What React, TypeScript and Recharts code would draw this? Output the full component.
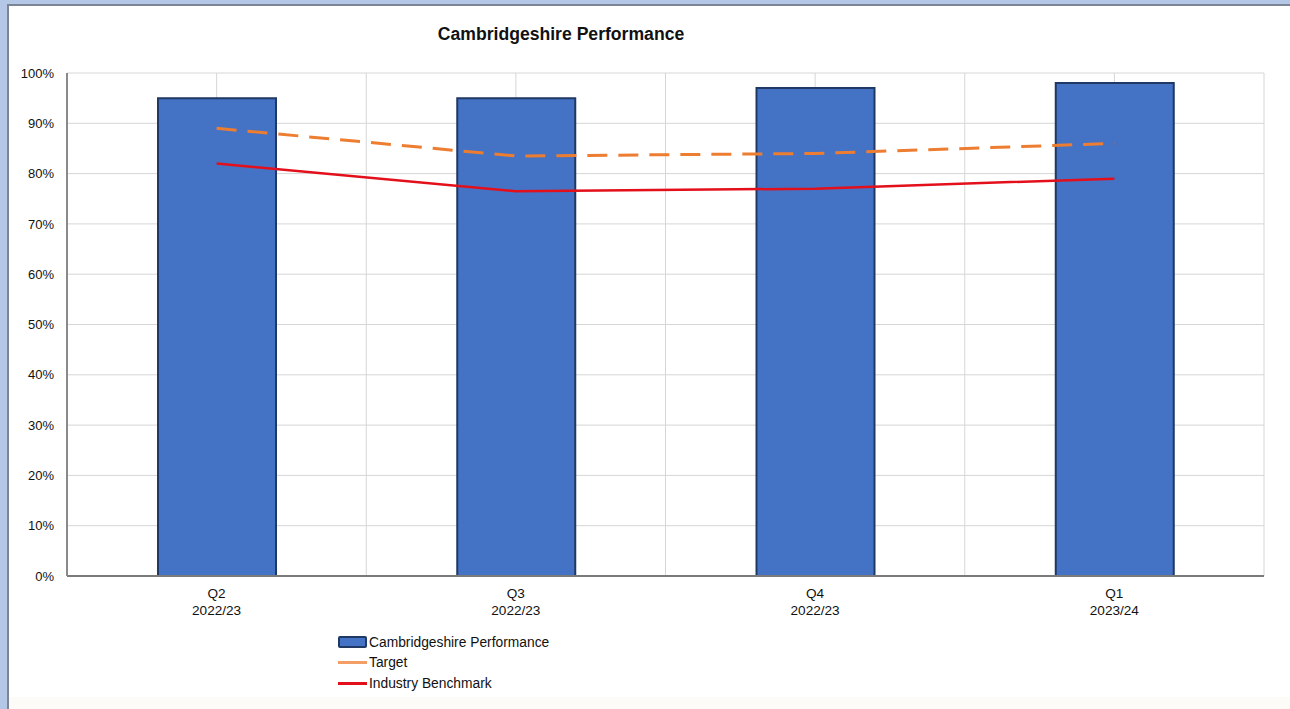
import React from "react";
import {
  ComposedChart,
  Bar,
  Line,
  XAxis,
  YAxis,
  CartesianGrid,
  Legend,
} from "recharts";

// Quarterly performance against target and benchmark (%)
const quarters = ["Q2", "Q3", "Q4", "Q1"];
const years = ["2022/23", "2022/23", "2022/23", "2023/24"];
const performance = [95, 95, 97, 98];
const target = [89, 83.5, 84, 86];
const benchmark = [82, 76.5, 77, 79];
const yTicks = [0, 10, 20, 30, 40, 50, 60, 70, 80, 90, 100];
const seriesNames = ["Cambridgeshire Performance", "Target", "Industry Benchmark"];

const FONT = "'Liberation Sans', Arial, sans-serif";
const BAR_FILL = "#4472c4";
const BAR_EDGE = "#203864";
const TARGET_COLOR = "#ed7d31";
const BENCH_COLOR = "#e3101b";

const data = quarters.map((q, i) => ({
  quarter: q,
  year: years[i],
  performance: performance[i],
  target: target[i],
  benchmark: benchmark[i],
}));

function QuarterTick(props: any) {
  const { x, y, index } = props;
  return (
    <text x={x} y={y} textAnchor="middle" fontSize={13.6} fill="#111" fontFamily={FONT}>
      <tspan x={x} dy={14}>{quarters[index]}</tspan>
      <tspan x={x} dy={17}>{years[index]}</tspan>
    </text>
  );
}

function LegendBox(props: any) {
  // keep the series order rather than the library's sorted order
  const items = [...(props.payload || [])].sort(
    (a: any, b: any) => seriesNames.indexOf(a.value) - seriesNames.indexOf(b.value)
  );
  return (
    <div style={{ fontFamily: FONT, fontSize: 13.8, color: "#111" }}>
      {items.map((it: any) => (
        <div key={it.value} style={{ display: "flex", alignItems: "center", height: 20.5 }}>
          {it.type === "rect" ? (
            <span
              style={{
                display: "inline-block",
                width: 25,
                height: 8,
                background: BAR_FILL,
                border: `2px solid ${BAR_EDGE}`,
                borderRadius: 2,
                marginRight: 2,
              }}
            />
          ) : (
            <span
              style={{
                display: "inline-block",
                width: 29,
                height: 3,
                background: it.color,
                opacity: it.color === TARGET_COLOR ? 0.75 : 1,
                marginRight: 2,
              }}
            />
          )}
          <span>{it.value}</span>
        </div>
      ))}
    </div>
  );
}

export default function App() {
  return (
    <div
      style={{
        position: "fixed",
        left: 0,
        top: 0,
        width: 1290,
        height: 709,
        background: "#b4c7e7",
        overflow: "hidden",
      }}
    >
      <div
        style={{
          position: "absolute",
          left: 7,
          top: 4,
          right: 0,
          bottom: 0,
          background: "#ffffff",
          borderLeft: "2px solid #7d8595",
          borderTop: "2px solid #7d8595",
        }}
      >
        <div
          style={{
            position: "absolute",
            left: 0,
            right: 0,
            bottom: 0,
            height: 12,
            background: "#fdfbf8",
          }}
        />
      </div>
      <div
        style={{
          position: "absolute",
          left: 411,
          top: 24,
          width: 300,
          textAlign: "center",
          fontFamily: FONT,
          fontWeight: "bold",
          fontSize: 17.6,
          color: "#111",
        }}
      >
        Cambridgeshire Performance
      </div>
      <div style={{ position: "absolute", left: 0, top: 0 }}>
        <ComposedChart
          width={1290}
          height={709}
          data={data}
          margin={{ top: 73, right: 26, bottom: 93, left: 17 }}
        >
          <CartesianGrid
            stroke="#d6d6d6"
            strokeWidth={1}
            verticalCoordinatesGenerator={({ offset }: any) => {
              const n = quarters.length;
              const step = offset.width / n;
              const xs: number[] = [];
              for (let i = 0; i <= n; i++) xs.push(offset.left + i * step);
              for (let i = 0; i < n; i++) xs.push(offset.left + (i + 0.5) * step);
              return xs;
            }}
          />
          <XAxis
            dataKey="quarter"
            height={40}
            tickLine={false}
            axisLine={{ stroke: "#7a7a7a", strokeWidth: 2 }}
            tick={<QuarterTick />}
            interval={0}
          />
          <YAxis
            width={50}
            domain={[0, 100]}
            ticks={yTicks}
            tickFormatter={(v: number) => `${v}%`}
            tickLine={false}
            axisLine={{ stroke: "#8a8a8a", strokeWidth: 2 }}
            tick={{ fontSize: 13, fill: "#111", fontFamily: FONT }}
            tickMargin={7}
          />
          <Legend
            layout="vertical"
            align="center"
            verticalAlign="middle"
            wrapperStyle={{ left: 338, top: 632, width: 260 }}
            content={<LegendBox />}
          />
          <Bar
            dataKey="performance"
            name="Cambridgeshire Performance"
            fill={BAR_FILL}
            stroke={BAR_EDGE}
            strokeWidth={2}
            barSize={118}
            legendType="rect"
            isAnimationActive={false}
          />
          <Line
            dataKey="target"
            name="Target"
            type="linear"
            stroke={TARGET_COLOR}
            strokeWidth={3}
            strokeDasharray="20 11"
            dot={false}
            activeDot={false}
            isAnimationActive={false}
          />
          <Line
            dataKey="benchmark"
            name="Industry Benchmark"
            type="linear"
            stroke={BENCH_COLOR}
            strokeWidth={2.5}
            dot={false}
            activeDot={false}
            isAnimationActive={false}
          />
        </ComposedChart>
      </div>
    </div>
  );
}
